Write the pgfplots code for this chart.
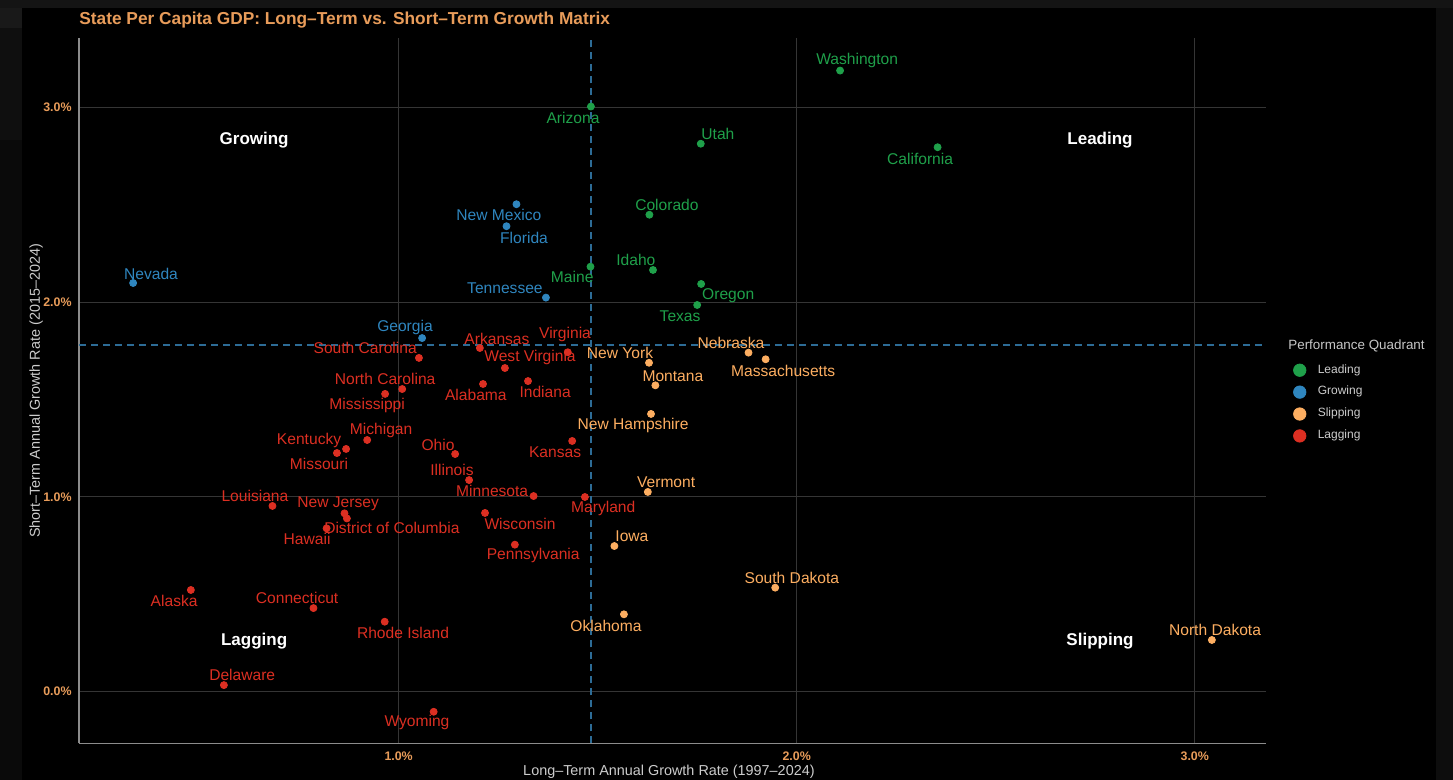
\documentclass[border=0pt]{standalone}
\usepackage{pgfplots}
\pgfplotsset{compat=1.18}
\usepackage{pgfplotstable}
\usepackage{fontspec}
\setmainfont{Liberation Sans}

\definecolor{cLead}{HTML}{1FA04A}
\definecolor{cGrow}{HTML}{2F86BF}
\definecolor{cSlip}{HTML}{FDAE61}
\definecolor{cLag}{HTML}{DC2F22}
\definecolor{cTitle}{HTML}{E89C5A}
\definecolor{cGrid}{HTML}{353535}
\definecolor{cAxis}{HTML}{8C8C8C}
\definecolor{cDash}{HTML}{2D6C96}
\definecolor{cText}{HTML}{CCCCCC}
\definecolor{cSeg}{HTML}{777777}

\pgfplotstableread[col sep=comma]{
x,y,lx,ly,name
2.109,3.191,2.152,3.241,Washington
1.483,3.006,1.438,2.948,Arizona
1.759,2.815,1.802,2.865,Utah
2.354,2.797,2.310,2.737,California
1.630,2.450,1.674,2.500,Colorado
1.639,2.166,1.596,2.217,Idaho
1.482,2.183,1.436,2.130,Maine
1.760,2.094,1.828,2.032,Oregon
1.750,1.986,1.707,1.930,Texas
}\leading

\pgfplotstableread[col sep=comma]{
x,y,lx,ly,name
1.296,2.504,1.252,2.449,New Mexico
1.271,2.391,1.315,2.331,Florida
0.333,2.099,0.378,2.146,Nevada
1.370,2.024,1.267,2.074,Tennessee
1.059,1.816,1.016,1.873,Georgia
}\growing

\pgfplotstableread[col sep=comma]{
x,y,lx,ly,name
1.629,1.689,1.556,1.739,New York
1.879,1.741,1.835,1.791,Nebraska
1.922,1.707,1.966,1.647,Massachusetts
1.645,1.573,1.689,1.621,Montana
1.634,1.426,1.589,1.369,New Hampshire
1.626,1.025,1.672,1.076,Vermont
1.542,0.747,1.586,0.798,Iowa
1.946,0.533,1.988,0.583,South Dakota
1.566,0.396,1.521,0.336,Oklahoma
3.043,0.264,3.051,0.315,North Dakota
}\slipping

\pgfplotstableread[col sep=comma]{
x,y,lx,ly,name
1.051,1.714,0.916,1.765,South Carolina
1.204,1.765,1.247,1.811,Arkansas
1.425,1.743,1.418,1.837,Virginia
1.267,1.662,1.330,1.714,West Virginia
1.009,1.554,0.966,1.606,North Carolina
1.212,1.580,1.194,1.523,Alabama
1.325,1.595,1.368,1.539,Indiana
0.966,1.529,0.921,1.472,Mississippi
0.921,1.292,0.956,1.343,Michigan
0.868,1.246,0.775,1.292,Kentucky
0.845,1.225,0.800,1.169,Missouri
1.142,1.220,1.099,1.266,Ohio
1.436,1.287,1.393,1.230,Kansas
1.177,1.086,1.134,1.138,Illinois
1.339,1.004,1.235,1.030,Minnesota
1.468,0.999,1.514,0.942,Maryland
0.683,0.953,0.639,1.004,Louisiana
0.864,0.915,0.848,0.963,New Jersey
0.870,0.889,0.983,0.840,District of Columbia
0.819,0.838,0.770,0.783,Hawaii
1.217,0.917,1.305,0.860,Wisconsin
1.292,0.754,1.338,0.696,Pennsylvania
0.478,0.521,0.436,0.464,Alaska
0.786,0.428,0.745,0.480,Connecticut
0.965,0.358,1.011,0.300,Rhode Island
0.561,0.032,0.607,0.084,Delaware
1.088,-0.105,1.046,-0.158,Wyoming
}\lagging

\begin{document}
\begin{tikzpicture}
% background
\fill[black] (0,0) rectangle (726.5pt,390pt);
\fill[black!92!white] (0,386pt) rectangle (726.5pt,390pt);
\fill[black!90!white] (0,376pt) rectangle (11pt,386pt);
\fill[black!94!white] (0,320pt) rectangle (11pt,376pt);
\fill[black!96!white] (0,0pt) rectangle (11pt,320pt);
\fill[black!95!white] (718pt,0pt) rectangle (726.5pt,386pt);
\begin{axis}[
  at={(39.5pt,18.35pt)}, anchor=south west,
  scale only axis, width=593.5pt, height=352.5pt,
  xmin=0.197, xmax=3.179, ymin=-0.267, ymax=3.357,
  clip=false,
  axis lines*=left,
  axis line style={cAxis, line width=0.7pt},
  grid=major,
  major grid style={cGrid, line width=0.5pt},
  major tick length=0pt,
  xtick={1,2,3}, xticklabels={1.0\%,2.0\%,3.0\%},
  ytick={0,1,2,3}, yticklabels={0.0\%,1.0\%,2.0\%,3.0\%},
  ticklabel style={font=\fontsize{6.2}{7}\selectfont\bfseries, text=cTitle},
  xticklabel style={yshift=-0.7pt},
  yticklabel style={xshift=-0.2pt},
  legend style={at={(1.0227,0.5437)}, anchor=north west, draw=none, fill=none,
    text=cText, font=\fontsize{6}{7}\selectfont, inner sep=0pt,
    row sep=1.1pt},
  legend cell align=left,
  legend image code/.code={\path (-0.7pt,0pt) -- (9.5pt,0pt);
    \draw[#1, mark size=3.1pt] plot coordinates {(2.5pt,0pt)};},
  every node near coord/.append style={anchor=center,
    font=\fontsize{7.8}{9}\selectfont, inner sep=0pt},
]
% reference lines
\addplot[cDash, line width=0.6pt, dash pattern=on 3.5pt off 2.5pt, forget plot]
  coordinates {(1.483,-0.267) (1.483,3.357)};
\addplot[cDash, line width=0.6pt, dash pattern=on 3.5pt off 2.5pt, forget plot]
  coordinates {(0.197,1.780) (3.179,1.780)};

% points
\addplot[only marks, mark=*, mark size=1.75pt, color=cLead, draw=none] table[x=x,y=y] {\leading};
\addlegendentry{Leading}
\addplot[only marks, mark=*, mark size=1.75pt, color=cGrow, draw=none] table[x=x,y=y] {\growing};
\addlegendentry{Growing}
\addplot[only marks, mark=*, mark size=1.75pt, color=cSlip, draw=none] table[x=x,y=y] {\slipping};
\addlegendentry{Slipping}
\addplot[only marks, mark=*, mark size=1.75pt, color=cLag, draw=none] table[x=x,y=y] {\lagging};
\addlegendentry{Lagging}

% labels
\addplot[only marks, mark=none, forget plot, point meta=explicit symbolic,
  nodes near coords, every node near coord/.append style={text=cLead}]
  table[x=lx,y=ly,meta=name] {\leading};
\addplot[only marks, mark=none, forget plot, point meta=explicit symbolic,
  nodes near coords, every node near coord/.append style={text=cGrow}]
  table[x=lx,y=ly,meta=name] {\growing};
\addplot[only marks, mark=none, forget plot, point meta=explicit symbolic,
  nodes near coords, every node near coord/.append style={text=cSlip}]
  table[x=lx,y=ly,meta=name] {\slipping};
\addplot[only marks, mark=none, forget plot, point meta=explicit symbolic,
  nodes near coords, every node near coord/.append style={text=cLag}]
  table[x=lx,y=ly,meta=name] {\lagging};

% quadrant labels
\node[text=white, font=\fontsize{8.5}{10}\selectfont\bfseries] at (axis cs:0.637,2.835) {Growing};
\node[text=white, font=\fontsize{8.5}{10}\selectfont\bfseries] at (axis cs:2.762,2.835) {Leading};
\node[text=white, font=\fontsize{8.5}{10}\selectfont\bfseries] at (axis cs:0.637,0.259) {Lagging};
\node[text=white, font=\fontsize{8.5}{10}\selectfont\bfseries] at (axis cs:2.762,0.259) {Slipping};

% titles
\node[anchor=west, inner sep=0pt, text=cTitle, font=\fontsize{8.65}{10}\selectfont\bfseries]
  at (rel axis cs:0,1.026) {State Per Capita GDP: Long–Term vs. Short–Term Growth Matrix};
\node[text=cText, font=\fontsize{7.2}{9}\selectfont]
  at (rel axis cs:0.497,-0.0405) {Long–Term Annual Growth Rate (1997–2024)};
\node[text=cText, font=\fontsize{7.2}{9}\selectfont, rotate=90]
  at (rel axis cs:-0.0362,0.5) {Short–Term Annual Growth Rate (2015–2024)};
\node[anchor=west, inner sep=0pt, text=cText!110, font=\fontsize{6.7}{8}\selectfont]
  at (rel axis cs:1.0185,0.563) {Performance Quadrant};
\end{axis}
\pgfresetboundingbox
\useasboundingbox (0,0) rectangle (726.5pt,390pt);
\end{tikzpicture}
\end{document}
